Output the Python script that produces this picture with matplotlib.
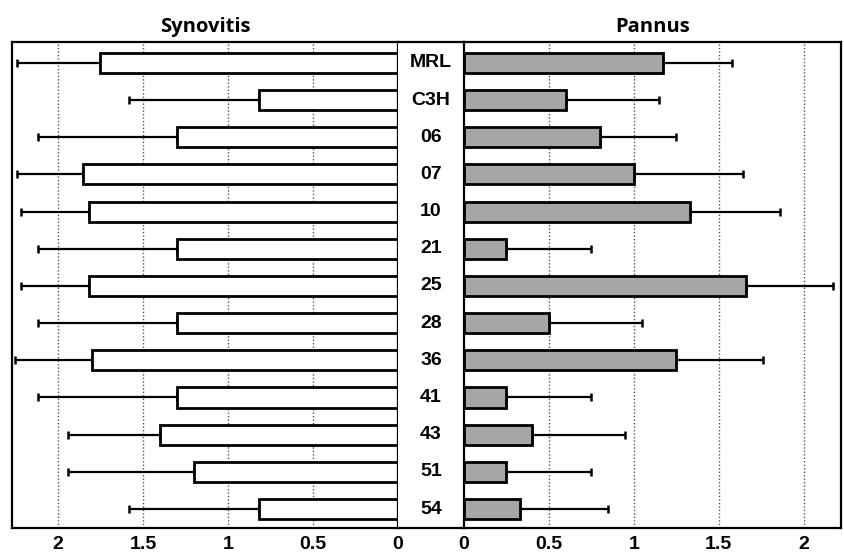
import matplotlib
matplotlib.use("Agg")
import matplotlib.pyplot as plt
import numpy as np

categories = ["MRL", "C3H", "06", "07", "10", "21", "25", "28", "36", "41", "43", "51", "54"]
synovitis = [1.75, 0.82, 1.30, 1.85, 1.82, 1.30, 1.82, 1.30, 1.80, 1.30, 1.40, 1.20, 0.82]
synovitis_err = [0.49, 0.76, 0.82, 0.39, 0.40, 0.82, 0.40, 0.82, 0.45, 0.82, 0.54, 0.74, 0.76]
pannus = [1.17, 0.60, 0.80, 1.00, 1.33, 0.25, 1.66, 0.50, 1.25, 0.25, 0.40, 0.25, 0.33]
pannus_err = [0.41, 0.55, 0.45, 0.64, 0.53, 0.50, 0.51, 0.55, 0.51, 0.50, 0.55, 0.50, 0.52]
ticks = [0, 0.5, 1, 1.5, 2]
tick_labels = ["0", "0.5", "1", "1.5", "2"]

W, H = 844, 552
fig = plt.figure(figsize=(W / 100, H / 100), dpi=100)

def fx(px):
    return px / W

bottom = (H - 528) / H
height = (528 - 42) / H

axL = fig.add_axes([fx(12), bottom, fx(398 - 12), height])
axC = fig.add_axes([fx(398), bottom, fx(464 - 398), height])
axR = fig.add_axes([fx(464), bottom, fx(841 - 464), height])

y = np.arange(len(categories))
bh = 0.54
tick_font = dict(family=["Liberation Sans", "DejaVu Sans"], weight="bold", size=14)

for ax, vals, errs, color, xmax in [
    (axL, synovitis, synovitis_err, "white", 2.27),
    (axR, pannus, pannus_err, "#a6a6a6", 2.22),
]:
    for g in [0.5, 1, 1.5, 2]:
        ax.axvline(g, color="#555555", linestyle=(0, (1, 1.5)), linewidth=1.0, zorder=0)
    ax.errorbar(vals, y, xerr=[np.zeros(len(vals)), errs], fmt="none",
                ecolor="black", elinewidth=1.6, capsize=3, capthick=1.8, zorder=1)
    ax.barh(y, vals, height=bh, color=color, edgecolor="black", linewidth=2.0, zorder=2)
    ax.set_ylim(len(categories) - 1 + 0.51, -0.56)
    ax.set_yticks([])
    ax.set_xticks(ticks)
    ax.set_xticklabels(tick_labels, **tick_font)
    ax.tick_params(axis="x", length=0, pad=6)
    for s in ax.spines.values():
        s.set_linewidth(1.6)
        s.set_color("black")

axL.set_xlim(2.27, 0)
axR.set_xlim(0, 2.22)

axC.set_xlim(0, 1)
axC.set_ylim(len(categories) - 1 + 0.51, -0.56)
axC.set_xticks([])
axC.set_yticks([])
axC.spines["left"].set_visible(False)
axC.spines["right"].set_visible(False)
for s in ["top", "bottom"]:
    axC.spines[s].set_linewidth(1.6)
for yi, c in zip(y, categories):
    axC.text(0.5, yi, c, ha="center", va="center", **tick_font)

title_font = dict(family=["Open Sans", "DejaVu Sans"], weight="bold", size=14.5)
axL.set_title("Synovitis", pad=7, **title_font)
axR.set_title("Pannus", pad=7, **title_font)

fig.savefig("out.png", dpi=100)
